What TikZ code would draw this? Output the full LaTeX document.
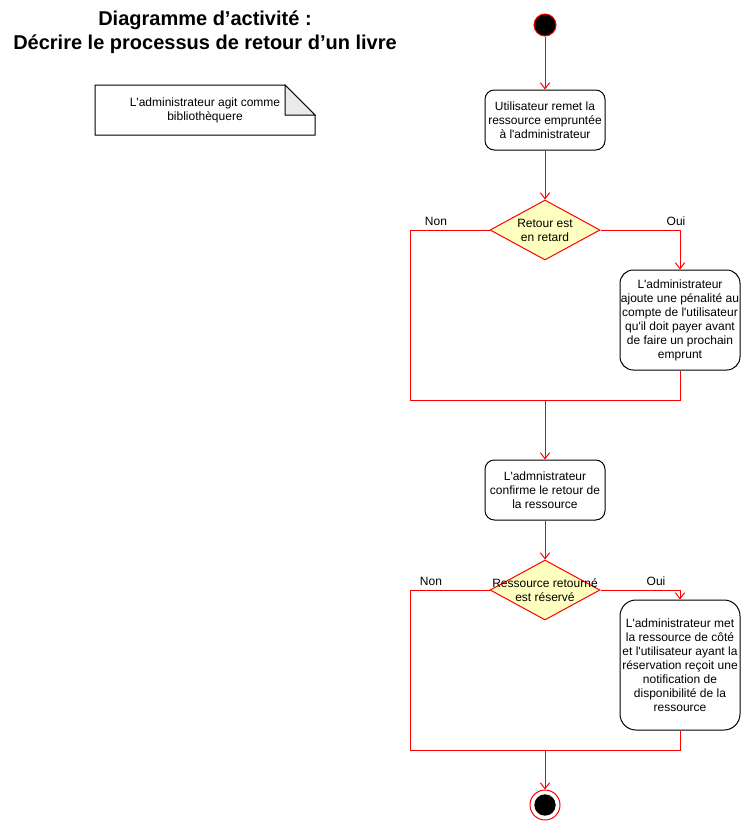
\documentclass[tikz,border=0pt]{standalone}
\usepackage{fontspec}
\setmainfont{Liberation Sans}[Ligatures=TeXOff]
\usetikzlibrary{arrows.meta,shapes.geometric}
\definecolor{edgered}{HTML}{FF0000}
\definecolor{decfill}{HTML}{FFFFC0}
\definecolor{foldgray}{HTML}{EBEBEB}
\begin{document}
\begin{tikzpicture}[x=0.75pt,y=-0.75pt,
  txt/.style={font=\fontsize{9}{10.5}\selectfont,align=center,inner sep=0pt},
  action/.style={draw=black,line width=0.75pt,fill=white,rounded corners=7pt,
    minimum width=90pt,align=center,inner sep=0pt,
    font=\fontsize{9}{10.5}\selectfont},
  decision/.style={draw=edgered,line width=0.75pt,fill=decfill,shape=diamond,
    minimum width=82.5pt,minimum height=45pt,inner sep=0pt},
  flow/.style={draw=edgered,line width=0.75pt},
  arr/.style={flow,-{Straight Barb[length=4.5pt,width=7pt]}},
  lbl/.style={font=\fontsize{9}{10.5}\selectfont,inner sep=0pt}]
\useasboundingbox (0,0) rectangle (741,821);
% title
\node[font=\fontsize{15}{18}\selectfont\bfseries,align=center,inner sep=0pt] (title) at (205,32)
  {Diagramme d’activité :\\Décrire le processus de retour d’un livre};
% note
\draw[line width=0.75pt,fill=white] (95,85) -- (285,85) -- (315,115) -- (315,135) -- (95,135) -- cycle;
\draw[line width=0.75pt,fill=foldgray] (285,85) -- (285,115) -- (315,115) -- cycle;
\node[txt] (note) at (205,110) {L'administrateur agit comme\\bibliothèquere};
% start
\node[circle,draw=edgered,fill=black,line width=0.75pt,minimum size=16.5pt,inner sep=0pt] (start) at (545,25) {};
% actions
\node[action,minimum height=45pt] (a1) at (545,120) {Utilisateur remet la\\ressource empruntée\\à l'administrateur};
\node[decision] (d1) at (545,230) {};
\node[txt] (d1t) at (545,230) {Retour est\\en retard};
\node[action,minimum height=75pt,rounded corners=10pt] (r1) at (680,320)
  {L'administrateur\\ajoute une pénalité au\\compte de l'utilisateur\\qu'il doit payer avant\\de faire un prochain\\emprunt};
\node[action,minimum height=45pt] (a2) at (545,490) {L'admnistrateur\\confirme le retour de\\la ressource};
\node[decision] (d2) at (545,590) {};
\node[txt] (d2t) at (545,590) {Ressource retourné\\est réservé};
\node[action,minimum height=97.5pt,rounded corners=12pt] (r2) at (680,665)
  {L'administrateur met\\la ressource de côté\\et l'utilisateur ayant la\\réservation reçoit une\\notification de\\disponibilité de la\\ressource};
% end
\node[circle,draw=edgered,fill=white,line width=0.75pt,minimum size=22.5pt,inner sep=0pt] (endo) at (545,805) {};
\node[circle,fill=black,minimum size=16pt,inner sep=0pt] (endi) at (545,805) {};
% labels
\node[lbl] (non1) at (436,221) {Non};
\node[lbl] (oui1) at (676,221) {Oui};
\node[lbl] (non2) at (431,581) {Non};
\node[lbl] (oui2) at (656,581) {Oui};
% junction coordinates
\coordinate (j1) at (545,400);
\coordinate (n1) at (410,400);
\coordinate (j2) at (545,750);
\coordinate (n2) at (410,750);
% connectors
\draw[arr] (start) -- (a1.north);
\draw[arr] (a1.south) -- (d1.north);
\draw[arr] (d1.east) -| (r1.north);
\draw[flow] (d1.west) -| (n1) -- (j1);
\draw[flow] (r1.south) |- (j1);
\draw[arr] (j1) -- (a2.north);
\draw[arr] (a2.south) -- (d2.north);
\draw[arr] (d2.east) -| (r2.north);
\draw[flow] (d2.west) -| (n2) -- (j2);
\draw[flow] (r2.south) |- (j2);
\draw[arr] (j2) -- (endo.north);
\end{tikzpicture}
\end{document}
